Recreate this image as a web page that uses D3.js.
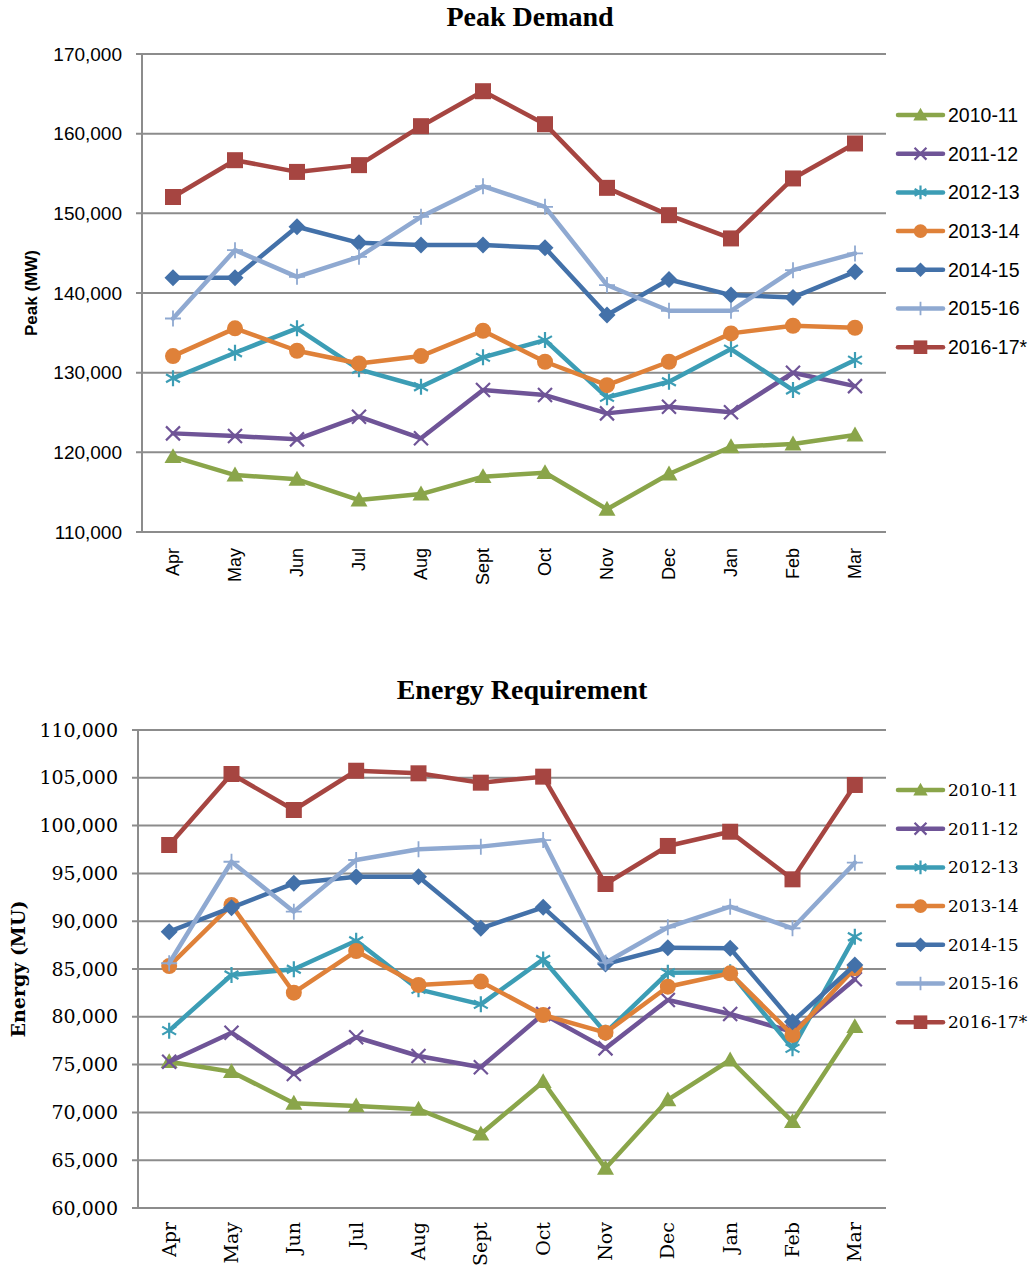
<!DOCTYPE html>
<html>
<head>
<meta charset="utf-8">
<script src="https://cdn.jsdelivr.net/npm/d3@7"></script>
<style>
  html, body { margin: 0; padding: 0; background: #ffffff; }
  svg { display: block; }
</style>
</head>
<body>
<svg id="chart" width="1030" height="1270"></svg>
<script>
// ---------- DATA ----------
const months = ["Apr","May","Jun","Jul","Aug","Sept","Oct","Nov","Dec","Jan","Feb","Mar"];
const seriesNames = ["2010-11","2011-12","2012-13","2013-14","2014-15","2015-16","2016-17*"];

const peak_2010_11 = [119450,117150,116610,114010,114760,116940,117440,112850,117280,120700,121040,122170];
const peak_2011_12 = [122380,122050,121630,124470,121760,127820,127190,124890,125730,125020,129990,128310];
const peak_2012_13 = [129290,132500,135560,130420,128230,131920,134090,126900,128860,132960,127820,131580];
const peak_2013_14 = [132080,135560,132750,131160,132080,135260,131370,128430,131370,134930,135890,135640];
const peak_2014_15 = [141910,141910,148310,146300,146010,146010,145670,137230,141700,139740,139450,142660];
const peak_2015_16 = [136800,145380,142030,144540,149560,153410,150820,141000,137770,137770,142870,144970];
const peak_2016_17 = [152050,156670,155200,156050,160940,165330,161190,153200,149770,146850,154380,158770];

const energy_2010_11 = [75300,74260,70950,70670,70320,67740,73210,64150,71300,75480,69030,78960];
const energy_2011_12 = [75300,78340,74020,77860,75900,74720,80290,76700,81760,80290,78440,83920];
const energy_2012_13 = [78550,84370,84970,87960,82870,81300,86000,78340,84600,84650,76700,88380];
const energy_2013_14 = [85310,91700,82520,86880,83330,83680,80190,78340,83150,84550,78100,85070];
const energy_2014_15 = [88900,91410,93960,94660,94660,89260,91450,85520,87230,87160,79490,85420];
const energy_2015_16 = [85600,96220,91000,96400,97520,97800,98490,85660,89360,91520,89260,96120];
const energy_2016_17 = [97970,105400,101630,105740,105470,104490,105120,93890,97870,99360,94380,104250];

const peakTicks = [110000,120000,130000,140000,150000,160000,170000];
const energyTicks = [60000,65000,70000,75000,80000,85000,90000,95000,100000,105000,110000];

// ---------- STYLE ----------
const colors = ["#8aa54a","#6f5497","#3c9db5","#df8139","#4371a9","#8fa9d1","#a64541"];
const markerKinds = ["triangle","x","asterisk","circle","diamond","plus","square"];

// custom marker symbol types (size = half-extent in px)
function symType(kind) {
  return {
    draw(ctx, s) {
      if (kind === "triangle") {
        ctx.moveTo(0, -s); ctx.lineTo(s*1.0, s*0.75); ctx.lineTo(-s*1.0, s*0.75); ctx.closePath();
      } else if (kind === "square") {
        ctx.rect(-s, -s, 2*s, 2*s);
      } else if (kind === "circle") {
        ctx.moveTo(s, 0); ctx.arc(0, 0, s, 0, 2*Math.PI);
      } else if (kind === "diamond") {
        ctx.moveTo(0, -s); ctx.lineTo(s, 0); ctx.lineTo(0, s); ctx.lineTo(-s, 0); ctx.closePath();
      } else if (kind === "x") {
        ctx.moveTo(-s, -s); ctx.lineTo(s, s); ctx.moveTo(s, -s); ctx.lineTo(-s, s);
      } else if (kind === "plus") {
        ctx.moveTo(-s, 0); ctx.lineTo(s, 0); ctx.moveTo(0, -s); ctx.lineTo(0, s);
      } else if (kind === "asterisk") {
        const a = s*0.87, b = s*0.5;
        ctx.moveTo(0, -s); ctx.lineTo(0, s);
        ctx.moveTo(-a, -b); ctx.lineTo(a, b);
        ctx.moveTo(-a, b); ctx.lineTo(a, -b);
      }
    }
  };
}
const markerSize = {triangle: 8.5, x: 7, asterisk: 8, circle: 8, diamond: 8.5, plus: 8, square: 8};
const filledKinds = new Set(["triangle","square","circle","diamond"]);

function drawMarker(g, kind, color, x, y, scale) {
  const s = markerSize[kind] * (scale || 1);
  const p = d3.path();
  symType(kind).draw(p, s);
  const el = g.append("path").attr("d", p.toString()).attr("transform", `translate(${x},${y})`);
  if (filledKinds.has(kind)) {
    el.attr("fill", color).attr("stroke", "none");
  } else {
    el.attr("fill", "none").attr("stroke", color).attr("stroke-width", kind === "plus" ? 1.8 : 2.2);
  }
}

const svg = d3.select("#chart");

function drawChart(cfg) {
  const g = svg.append("g");
  const x = d3.scalePoint().domain(months).range([cfg.left, cfg.right]).padding(0.5);
  const y = d3.scaleLinear().domain(cfg.domain).range([cfg.bottom, cfg.top]);

  // gridlines
  g.append("g").selectAll("line").data(cfg.ticks).join("line")
    .attr("x1", cfg.left - 6).attr("x2", cfg.right)
    .attr("y1", d => y(d)).attr("y2", d => y(d))
    .attr("stroke", "#8c8c8c").attr("stroke-width", 2);

  // y axis line
  g.append("line").attr("x1", cfg.left).attr("x2", cfg.left)
    .attr("y1", cfg.top).attr("y2", cfg.bottom)
    .attr("stroke", "#8c8c8c").attr("stroke-width", 2);

  // y tick labels
  g.append("g").selectAll("text").data(cfg.ticks).join("text")
    .attr("x", cfg.left - cfg.labelGap).attr("y", d => y(d))
    .attr("dy", "0.35em").attr("text-anchor", "end")
    .attr("font-family", cfg.yFont).attr("font-size", cfg.yFontSize).attr("fill", "#000")
    .text(d => d3.format(",")(d));

  // x tick labels (rotated)
  g.append("g").selectAll("text").data(months).join("text")
    .attr("transform", d => `translate(${x(d)},${cfg.bottom + cfg.xLabelGap}) rotate(-90)`)
    .attr("text-anchor", "end").attr("dy", "0.35em")
    .attr("font-family", cfg.xFont).attr("font-size", cfg.xFontSize).attr("fill", "#000")
    .text(d => d);

  // title
  g.append("text").attr("x", cfg.titleX).attr("y", cfg.titleY)
    .attr("text-anchor", "middle").attr("font-family", "'Liberation Serif', serif")
    .attr("font-weight", "bold").attr("font-size", 28).attr("fill", "#000")
    .text(cfg.title);

  // y axis title
  g.append("text")
    .attr("transform", `translate(${cfg.yTitleX},${(cfg.top + cfg.bottom) / 2}) rotate(-90)`)
    .attr("text-anchor", "middle").attr("dy", "0.35em")
    .attr("font-family", cfg.yTitleFont).attr("font-weight", "bold")
    .attr("font-size", cfg.yTitleSize).attr("fill", "#000")
    .text(cfg.yTitle);

  // series
  const line = d3.line().x((d, i) => x(months[i])).y(d => y(d));
  cfg.series.forEach((vals, si) => {
    const sg = g.append("g");
    sg.append("path").datum(vals).attr("d", line)
      .attr("fill", "none").attr("stroke", colors[si]).attr("stroke-width", 4.5)
      .attr("stroke-linejoin", "round").attr("stroke-linecap", "round");
    vals.forEach((v, i) => drawMarker(sg, markerKinds[si], colors[si], x(months[i]), y(v)));
  });

  // legend
  const lg = g.append("g");
  seriesNames.forEach((name, si) => {
    const ly = cfg.legendTop + si * 38.7;
    lg.append("line").attr("x1", 898).attr("x2", 943).attr("y1", ly).attr("y2", ly)
      .attr("stroke", colors[si]).attr("stroke-width", 4.5).attr("stroke-linecap", "round");
    drawMarker(lg, markerKinds[si], colors[si], 920.5, ly, 0.85);
    lg.append("text").attr("x", 948).attr("y", ly).attr("dy", "0.35em")
      .attr("font-family", cfg.legendFont).attr("font-size", cfg.legendFontSize).attr("fill", "#000")
      .text(name);
  });
}

drawChart({
  title: "Peak Demand", titleX: 530, titleY: 26,
  left: 142, right: 886, top: 54, bottom: 532,
  domain: [110000, 170000], ticks: peakTicks,
  yFont: "'Liberation Sans', Arial, sans-serif", yFontSize: 19, labelGap: 20,
  xFont: "'Liberation Sans', Arial, sans-serif", xFontSize: 18, xLabelGap: 16,
  yTitle: "Peak (MW)", yTitleX: 31, yTitleFont: "'Liberation Sans', Arial, sans-serif", yTitleSize: 17,
  legendTop: 115, legendFont: "'Liberation Sans', Arial, sans-serif", legendFontSize: 19.5,
  series: [peak_2010_11, peak_2011_12, peak_2012_13, peak_2013_14, peak_2014_15, peak_2015_16, peak_2016_17]
});

drawChart({
  title: "Energy Requirement", titleX: 522, titleY: 699,
  left: 138, right: 886, top: 730, bottom: 1208,
  domain: [60000, 110000], ticks: energyTicks,
  yFont: "'DejaVu Serif', serif", yFontSize: 19, labelGap: 20,
  xFont: "'DejaVu Serif', serif", xFontSize: 19, xLabelGap: 14,
  yTitle: "Energy (MU)", yTitleX: 18, yTitleFont: "'DejaVu Serif', serif", yTitleSize: 19,
  legendTop: 790, legendFont: "'DejaVu Serif', serif", legendFontSize: 17,
  series: [energy_2010_11, energy_2011_12, energy_2012_13, energy_2013_14, energy_2014_15, energy_2015_16, energy_2016_17]
});
</script>
</body>
</html>
